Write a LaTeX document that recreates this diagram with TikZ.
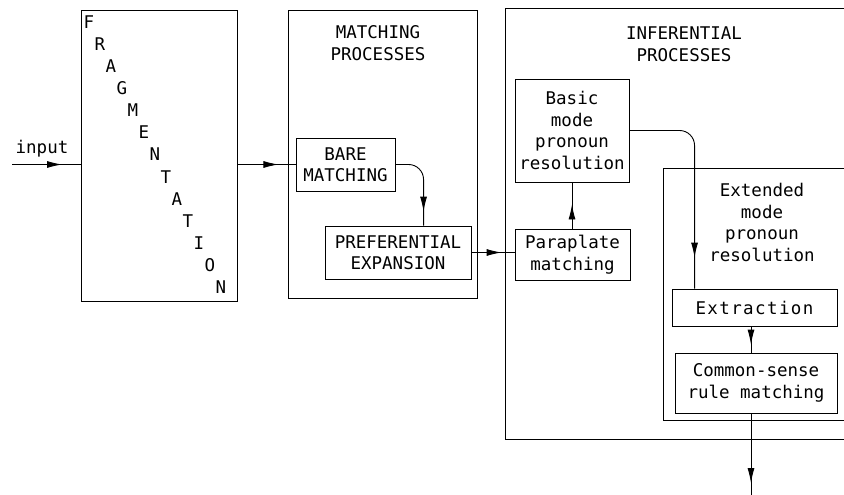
\documentclass[tikz,border=0pt]{standalone}
\usepackage{fontspec}
\newfontfamily\mono{DejaVu Sans Mono}
\usetikzlibrary{arrows.meta,decorations.markings,calc}
\begin{document}
\begin{tikzpicture}[x=1pt,y=-1pt,
  line width=0.9pt,
  txt/.style={font=\mono\fontsize{17.5}{21.5}\selectfont, align=center, inner sep=0pt},
  box/.style={draw, txt, rectangle},
  tipat/.style={decoration={markings, mark=at position #1 with {\arrow{Latex[length=15pt,width=7pt]}}}, postaction={decorate}},
  curved/.style={rounded corners=15pt}]
\useasboundingbox (0,0) rectangle (844,495);
\clip (0,0) rectangle (844,495);
\fill[white] (0,0) rectangle (844,495);

% big frames
\node[draw, minimum width=156pt, minimum height=291pt, inner sep=0pt] (frag) at (159,155.5) {};
\node[draw, minimum width=189pt, minimum height=288pt, inner sep=0pt] (match) at (382.5,154) {};
\node[draw, minimum width=365pt, minimum height=431pt, inner sep=0pt] (infer) at (687.5,223.5) {};
\node[draw, minimum width=207pt, minimum height=252pt, inner sep=0pt] (ext) at (766.5,294) {};

% fragmentation letters
\foreach \ch [count=\i from 0] in {F,R,A,G,M,E,N,T,A,T,I,O,N}
  \node[txt] (fl\i) at ({89+11*\i},{22+22.1*\i}) {\ch};

% titles
\node[txt] (mtitle) at (378,43) {MATCHING\\PROCESSES};
\node[txt] (ititle) at (684,44) {INFERENTIAL\\PROCESSES};
\node[txt] (etitle) at (762,222.5) {Extended\\mode\\pronoun\\resolution};
\node[txt] (inlab) at (42,149) {input};

% boxes
\node[box, minimum width=99pt, minimum height=53pt] (bare) at (345.5,164.5) {BARE\\MATCHING};
\node[box, minimum width=146pt, minimum height=53pt] (pref) at (398,252.5) {PREFERENTIAL\\EXPANSION};
\node[box, minimum width=114pt, minimum height=103pt] (basic) at (572,130.5) {Basic\\mode\\pronoun\\resolution};
\node[box, minimum width=115pt, minimum height=51pt] (parap) at (572.5,254.5) {Paraplate\\matching};
\node[box, minimum width=165pt, minimum height=37pt] (extr) at (754.5,307.5) {\addfontfeature{LetterSpace=8}Extraction};
\node[box, minimum width=162pt, minimum height=60pt] (cs) at (756,383) {Common-sense\\rule matching};

\coordinate (in) at (12,164.5);
\coordinate (out) at (751,495);

% connectors
\draw[tipat=50pt] (in) -- (in -| frag.west);
\draw[tipat=41pt] (frag.east |- bare.west) -- (bare.west);
\draw[curved, tipat=-14pt] (bare.east) -| ($(pref.north west)+(99,0)$);
\draw[tipat=-13pt] (pref.east) -- (pref.east -| parap.west);
\draw[tipat=-22pt] (parap.north -| basic.south) -- (basic.south);
\draw[curved, tipat=-31pt] (basic.east) -| ($(extr.north west)+(23,0)$);
\draw[tipat=-8pt] (extr.south -| 751,0) -- (cs.north -| 751,0);
\draw[tipat=-12pt] (cs.south -| out) -- (out);
\end{tikzpicture}
\end{document}
